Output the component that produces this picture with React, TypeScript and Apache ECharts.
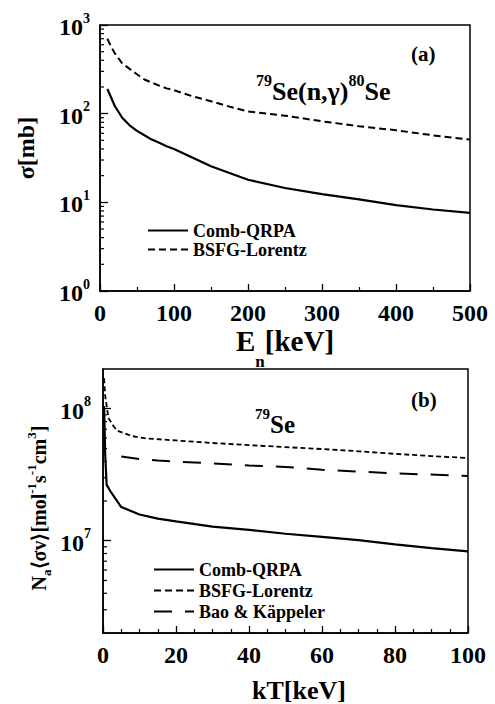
import React, { useEffect, useRef } from "react";
import * as echarts from "echarts";

const FONT = "Liberation Serif";

// Panel (a): 79Se(n,γ)80Se cross section, En [keV] vs σ [mb]
const enComb = [10, 20, 30, 40, 50, 60, 70, 80, 90, 100, 150, 200, 250, 300, 350, 400, 450, 500];
const sigmaComb = [190, 122, 90, 74, 64, 57, 51, 47, 43, 40, 25.5, 18, 14.5, 12.4, 10.8, 9.3, 8.3, 7.6];
const enBsfg = [10, 15, 20, 30, 40, 50, 60, 70, 80, 90, 100, 125, 150, 175, 200, 250, 300, 350, 400, 450, 500];
const sigmaBsfg = [700, 570, 480, 370, 320, 278, 243, 224, 207, 193, 184, 157, 138, 120, 106, 95, 82, 72, 65, 57, 51];

// Panel (b): MACS N_a<σv>, kT [keV]
const ktComb = [0.3, 0.6, 1, 2, 5, 10, 15, 20, 30, 40, 50, 60, 70, 80, 90, 100];
const macsComb = [1.05e8, 4.5e7, 2.65e7, 2.38e7, 1.8e7, 1.58e7, 1.47e7, 1.4e7, 1.28e7, 1.21e7, 1.13e7, 1.07e7, 1.01e7, 9.4e6, 8.8e6, 8.3e6];
const ktBsfg = [0.3, 0.6, 1.5, 3, 4, 8, 12, 20, 30, 40, 50, 60, 70, 80, 90, 100];
const macsBsfg = [1.7e8, 1.25e8, 8.5e7, 7.3e7, 6.8e7, 6.2e7, 5.95e7, 5.75e7, 5.5e7, 5.3e7, 5.12e7, 4.95e7, 4.76e7, 4.55e7, 4.38e7, 4.23e7];
const ktBao = [5, 10, 15, 20, 25, 30, 40, 50, 60, 80, 100];
const macsBao = [4.35e7, 4.15e7, 4.05e7, 3.98e7, 3.92e7, 3.85e7, 3.72e7, 3.62e7, 3.45e7, 3.24e7, 3.1e7];

// Log-axis minor tick positions (2..9 × decade)
const minorTicksA = [2, 3, 4, 5, 6, 7, 8, 9, 20, 30, 40, 50, 60, 70, 80, 90, 200, 300, 400, 500, 600, 700, 800, 900];
const minorTicksB = [3e6, 4e6, 5e6, 6e6, 7e6, 8e6, 9e6, 2e7, 3e7, 4e7, 5e7, 6e7, 7e7, 8e7, 9e7];

const seriesNames = ["Comb-QRPA", "BSFG-Lorentz", "Bao & Käppeler"];

const zip = (xs: number[], ys: number[]) => xs.map((x, i) => [x, ys[i]]);

const bold = { fontFamily: FONT, fontWeight: "bold" as const, color: "#000" };

const powLabelRich = {
  b: { ...bold, fontSize: 24, lineHeight: 28, verticalAlign: "bottom" },
  s: { ...bold, fontSize: 14, lineHeight: 14, verticalAlign: "top" },
};

const powFormatter = (v: number) => `{b|10}{s|${Math.round(Math.log10(v))}}`;

const minorTickSeries = (ticks: number[], idx: number) => ({
  type: "custom",
  xAxisIndex: idx,
  yAxisIndex: idx,
  silent: true,
  clip: false,
  data: ticks.map((v) => [0, v]),
  renderItem: (_p: any, api: any) => {
    const p = api.coord([api.value(0), api.value(1)]);
    return {
      type: "line",
      shape: { x1: p[0], y1: p[1], x2: p[0] + 4, y2: p[1] },
      style: { stroke: "#000", lineWidth: 1.2 },
    };
  },
});

const lineSeries = (name: string, idx: number, xs: number[], ys: number[], width: number, type: any) => ({
  name,
  type: "line",
  xAxisIndex: idx,
  yAxisIndex: idx,
  symbol: "none",
  lineStyle: { color: "#000", width, type },
  itemStyle: { color: "#000" },
  data: zip(xs, ys),
});

export default function App() {
  const ref = useRef<HTMLDivElement>(null);
  useEffect(() => {
    if (!ref.current) return;
    const chart = echarts.init(ref.current, undefined, { renderer: "svg" });
    const axisLineStyle = { show: true, onZero: false, lineStyle: { color: "#000", width: 1.5 } };
    const xLabel = { ...bold, fontSize: 24, lineHeight: 24 };
    const legendBase = {
      orient: "vertical",
      padding: 0,
      itemWidth: 40,
      itemHeight: 12,
      itemStyle: { opacity: 0 },
      textStyle: { ...bold, fontSize: 18, lineHeight: 19 },
    };
    chart.setOption({
      animation: false,
      backgroundColor: "#fff",
      textStyle: { fontFamily: FONT },
      grid: [
        { left: 100, top: 25, width: 370, height: 266, show: true, borderColor: "#000", borderWidth: 1.5, backgroundColor: "transparent" },
        { left: 103, top: 369, width: 365, height: 264, show: true, borderColor: "#000", borderWidth: 1.5, backgroundColor: "transparent" },
      ],
      title: [
        { text: "(a)", left: 411, top: 43, padding: 0, textStyle: { ...bold, fontSize: 21 } },
        {
          text: "{s|79}{b|Se(n,γ)}{s|80}{b|Se}",
          left: 256,
          top: 72,
          padding: 0,
          textStyle: {
            ...bold,
            rich: {
              b: { ...bold, fontSize: 26, lineHeight: 32, verticalAlign: "bottom" },
              s: { ...bold, fontSize: 16, lineHeight: 16, verticalAlign: "top" },
            },
          },
        },
        { text: "(b)", left: 411, top: 389, padding: 0, textStyle: { ...bold, fontSize: 21 } },
        {
          text: "{s|79}{b|Se}",
          left: 255,
          top: 406,
          padding: 0,
          textStyle: {
            ...bold,
            rich: {
              b: { ...bold, fontSize: 25, lineHeight: 31, verticalAlign: "bottom" },
              s: { ...bold, fontSize: 15, lineHeight: 15, verticalAlign: "top" },
            },
          },
        },
      ],
      legend: [
        { ...legendBase, data: seriesNames.slice(0, 2), left: 147, top: 221, itemGap: 0 },
        { ...legendBase, data: seriesNames, left: 153, top: 560, itemGap: 2 },
      ],
      xAxis: [
        {
          gridIndex: 0,
          type: "value",
          min: 0,
          max: 500,
          interval: 100,
          axisLine: axisLineStyle,
          axisTick: { show: true, inside: true, length: 7, lineStyle: { color: "#000", width: 1.3 } },
          minorTick: { show: true, splitNumber: 2, length: 4, lineStyle: { color: "#000", width: 1.2 } },
          splitLine: { show: false },
          axisLabel: { ...xLabel, margin: 10 },
          name: "{b|E}{sub|n}{b|[keV]}",
          nameLocation: "middle",
          nameMoveOverlap: false,
          nameGap: 35,
          nameTextStyle: {
            ...bold,
            rich: {
              b: { ...bold, fontSize: 29, lineHeight: 29, verticalAlign: "top" },
              sub: { ...bold, fontSize: 17, lineHeight: 44, verticalAlign: "bottom" },
            },
          },
        },
        {
          gridIndex: 1,
          type: "value",
          min: 0,
          max: 100,
          interval: 20,
          axisLine: axisLineStyle,
          axisTick: { show: true, inside: true, length: 7, lineStyle: { color: "#000", width: 1.3 } },
          minorTick: { show: true, splitNumber: 4, length: 4, lineStyle: { color: "#000", width: 1.2 } },
          splitLine: { show: false },
          axisLabel: { ...xLabel, margin: 10 },
          name: "kT[keV]",
          nameLocation: "middle",
          nameMoveOverlap: false,
          nameGap: 44,
          nameTextStyle: { ...bold, fontSize: 26, padding: [0, 0, 0, 27] },
        },
      ],
      yAxis: [
        {
          gridIndex: 0,
          type: "log",
          logBase: 10,
          min: 1,
          max: 1000,
          axisLine: axisLineStyle,
          axisTick: { show: true, inside: true, length: 8, lineStyle: { color: "#000", width: 1.3 } },
          splitLine: { show: false },
          axisLabel: { ...bold, formatter: powFormatter, margin: 10, rich: powLabelRich },
          name: "σ[mb]",
          nameLocation: "middle",
          nameMoveOverlap: false,
          nameRotate: 90,
          nameGap: 62,
          nameTextStyle: { ...bold, fontSize: 24, padding: [0, 0, 0, 20] },
        },
        {
          gridIndex: 1,
          type: "log",
          logBase: 10,
          min: 2e6,
          max: 2e8,
          axisLine: axisLineStyle,
          axisTick: { show: true, inside: true, length: 8, lineStyle: { color: "#000", width: 1.3 } },
          splitLine: { show: false },
          axisLabel: { ...bold, formatter: powFormatter, margin: 12, rich: powLabelRich, showMinLabel: false, showMaxLabel: false },
          name: "{b|N}{sub|a}{b|⟨σv⟩[mol}{sup|-1}{b|s}{sup|-1}{b|cm}{sup|3}{b|]}",
          nameLocation: "middle",
          nameMoveOverlap: false,
          nameRotate: 90,
          nameGap: 50,
          nameTextStyle: {
            ...bold,
            padding: [0, 14, 0, 0],
            rich: {
              b: { ...bold, fontSize: 20, lineHeight: 28, verticalAlign: "middle" },
              sub: { ...bold, fontSize: 13, lineHeight: 13, verticalAlign: "bottom" },
              sup: { ...bold, fontSize: 13, lineHeight: 13, verticalAlign: "top" },
            },
          },
        },
      ],
      series: [
        lineSeries(seriesNames[0], 0, enComb, sigmaComb, 2.2, "solid"),
        lineSeries(seriesNames[1], 0, enBsfg, sigmaBsfg, 2, [7, 4]),
        lineSeries(seriesNames[0], 1, ktComb, macsComb, 2.2, "solid"),
        lineSeries(seriesNames[1], 1, ktBsfg, macsBsfg, 1.8, [5, 3]),
        lineSeries(seriesNames[2], 1, ktBao, macsBao, 2, [18, 13]),
        minorTickSeries(minorTicksA, 0),
        minorTickSeries(minorTicksB, 1),
      ],
    });
    return () => chart.dispose();
  }, []);
  return <div ref={ref} style={{ position: "fixed", left: 0, top: 0, width: 495, height: 704 }} />;
}
